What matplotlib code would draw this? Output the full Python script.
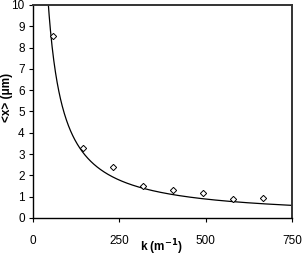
import matplotlib
matplotlib.use("Agg")
import matplotlib.pyplot as plt
import numpy as np

plt.rcParams['font.family'] = ['Liberation Sans', 'DejaVu Sans']

k_data = [59, 146, 232, 319, 406, 493, 580, 665]
x_data = [8.55, 3.27, 2.38, 1.52, 1.31, 1.16, 0.89, 0.94]
fit_coef = 445.0  # <x> = a / k fitted curve
x_ticks = [0, 250, 500, 750]
y_ticks = list(range(0, 11))

fig = plt.figure(figsize=(3.02, 2.57), dpi=100)
W, H = 302, 257
left, right, top, bottom = 33, 292, 5, 218
ax = fig.add_axes([left / W, 1 - bottom / H, (right - left) / W, (bottom - top) / H])

k_fit = np.linspace(20, 750, 600)
ax.plot(k_fit, fit_coef / k_fit, color='black', lw=0.9)
ax.plot(k_data, x_data, linestyle='none', marker='D', markersize=3.2,
        markerfacecolor='white', markeredgecolor='black', markeredgewidth=0.7)

ax.set_xlim(0, 750)
ax.set_ylim(0, 10)
ax.set_xticks(x_ticks)
ax.set_yticks(y_ticks)
ax.tick_params(direction='out', length=3, width=0.8, labelsize=8.5, pad=3)
ax.tick_params(axis='x', pad=9)
for s in ax.spines.values():
    s.set_linewidth(1.0)
ax.spines['top'].set_color('#333333')
ax.spines['right'].set_color('#333333')
ax.spines['right'].set_linewidth(1.4)
ax.spines['top'].set_linewidth(1.4)

fig.text(161 / W, 1 - 247 / H, 'k (m$^{\\mathbf{-1}}$)', ha='center', va='center',
         fontsize=8.5, fontweight='bold')
fig.text(7 / W, 1 - 97 / H, '<x> (μm)', ha='center', va='center', rotation=90,
         fontsize=8.5, fontweight='bold')

fig.savefig('out.png', dpi=100)
